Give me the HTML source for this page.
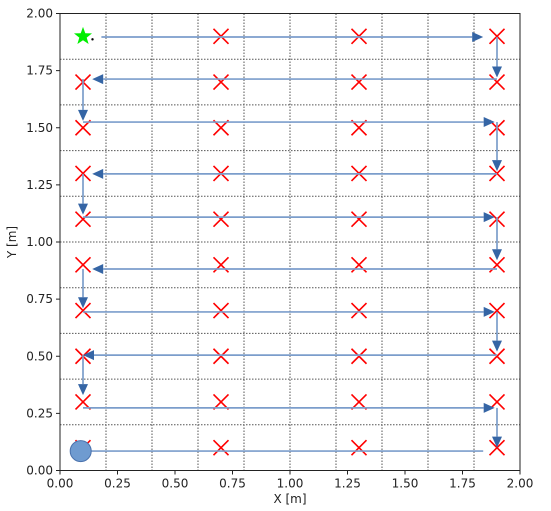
<!DOCTYPE html>
<html><head><meta charset="utf-8"><style>
html,body{margin:0;padding:0;background:#fff;}
svg{display:block;font-family:"DejaVu Sans","Liberation Sans",sans-serif;}
</style></head><body>
<svg id="chart" width="551" height="511" xmlns="http://www.w3.org/2000/svg"></svg>
<script>
// ---- data ----
const xTicks = [0, 0.25, 0.5, 0.75, 1.0, 1.25, 1.5, 1.75, 2.0];
const yTicks = [0, 0.25, 0.5, 0.75, 1.0, 1.25, 1.5, 1.75, 2.0];
const xTickLabels = ["0.00","0.25","0.50","0.75","1.00","1.25","1.50","1.75","2.00"];
const yTickLabels = ["0.00","0.25","0.50","0.75","1.00","1.25","1.50","1.75","2.00"];
const gridVals = [0.2, 0.4, 0.6, 0.8, 1.0, 1.2, 1.4, 1.6, 1.8];
const targetX = [0.1, 0.7, 1.3, 1.9];
const targetY = [0.1, 0.3, 0.5, 0.7, 0.9, 1.1, 1.3, 1.5, 1.7, 1.9];
// arrows: start x, start y, end x, end y
const arrowX0 = [0.18, 1.9, 1.9, 0.1, 0.1, 1.9, 1.9, 0.1, 0.1, 1.9, 1.9, 0.1, 0.1, 1.9, 1.9, 0.1, 0.1, 1.9];
const arrowY0 = [1.897, 1.897, 1.713, 1.713, 1.525, 1.525, 1.298, 1.298, 1.109, 1.109, 0.882, 0.882, 0.694, 0.694, 0.505, 0.505, 0.274, 0.274];
const arrowX1 = [1.84, 1.9, 0.14, 0.1, 1.89, 1.9, 0.14, 0.1, 1.89, 1.9, 0.14, 0.1, 1.89, 1.9, 0.1, 0.1, 1.89, 1.9];
const arrowY1 = [1.897, 1.72, 1.713, 1.53, 1.525, 1.31, 1.298, 1.12, 1.109, 0.92, 0.882, 0.71, 0.694, 0.52, 0.505, 0.33, 0.274, 0.1];
const finalLineX = [0.1, 1.84];
const finalLineY = [0.085, 0.085];
const startPos = [0.1, 1.9];
const endPos = [0.09, 0.085];

// ---- axes ----
const L=60, R=520, T=13.5, B=470.5;
const sx = v => L + (v-0)/(2-0)*(R-L);
const sy = v => B - (v-0)/(2-0)*(B-T);
const svg = document.getElementById('chart');
const NS='http://www.w3.org/2000/svg';
function mk(tag, attrs, parent){const e=document.createElementNS(NS,tag);for(const k in attrs)e.setAttribute(k,attrs[k]);(parent||svg).appendChild(e);return e;}

// grid
const grid = mk('g',{});


gridVals.forEach(v=>{
  const a=mk('line',{x1:sx(v),x2:sx(v),y1:T,y2:B,stroke:'#555','stroke-width':1,'stroke-dasharray':'1.5,1.5'},grid);
  
  
  const b=mk('line',{x1:L,x2:R,y1:sy(v),y2:sy(v),stroke:'#555','stroke-width':1,'stroke-dasharray':'1.5,1.5'},grid);
  
  
});

// targets (red x)
const tg = mk('g',{});


targetX.forEach(x=>targetY.forEach(y=>{
  if(x===startPos[0]&&y===startPos[1]) return;
  const cx=sx(x), cy=sy(y), s=7.5;
  const p=mk('path',{d:`M${cx-s},${cy-s}L${cx+s},${cy+s}M${cx-s},${cy+s}L${cx+s},${cy-s}`,stroke:'#ff0000','stroke-width':1.6,fill:'none'},tg);
  
  
}));

// arrows
const ag = mk('g',{});


for(let i=0;i<arrowX0.length;i++){
  const x0=sx(arrowX0[i]), y0=sy(arrowY0[i]), x1=sx(arrowX1[i]), y1=sy(arrowY1[i]);
  const dx=x1-x0, dy=y1-y0, len=Math.hypot(dx,dy), ux=dx/len, uy=dy/len;
  const hl=11, hw=5;
  const bx=x1-ux*hl, by=y1-uy*hl;
  const l=mk('line',{x1:x0,y1:y0,x2:bx,y2:by,stroke:'#7b9dcb','stroke-width':1.7},ag);
  
  
  const h=mk('polygon',{points:`${x1},${y1} ${bx-uy*hw},${by+ux*hw} ${bx+uy*hw},${by-ux*hw}`,fill:'#3565a5'},ag);
  
  
}
const fl=mk('line',{x1:sx(finalLineX[0]),y1:sy(finalLineY[0]),x2:sx(finalLineX[1]),y2:sy(finalLineY[1]),stroke:'#7b9dcb','stroke-width':1.7});



// end circle
const ec=mk('circle',{cx:sx(endPos[0]),cy:sy(endPos[1]),r:10.5,fill:'#6f9bd0',stroke:'#4a72ad','stroke-width':1});



// start star
(function(){
  const cx=sx(startPos[0]), cy=sy(startPos[1]), ro=9.5, ri=3.9; let pts=[];
  for(let k=0;k<10;k++){const r=k%2?ri:ro, a=-Math.PI/2+k*Math.PI/5; pts.push((cx+r*Math.cos(a)).toFixed(1)+','+(cy+r*Math.sin(a)).toFixed(1));}
  const st=mk('polygon',{points:pts.join(' '),fill:'#00ee00'});
  
  
  const d=mk('circle',{cx:cx+9.5,cy:cy+3,r:1.2,fill:'#000'});
  
  
})();

// frame
const fr=mk('rect',{x:L,y:T,width:R-L,height:B-T,fill:'none',stroke:'#222','stroke-width':1});



// ticks
xTicks.forEach((v,i)=>{
  const t=mk('line',{x1:sx(v),x2:sx(v),y1:B,y2:B+4,stroke:'#222'});
  
  
  const tx=mk('text',{x:sx(v),y:B+17,'font-size':12,'text-anchor':'middle',fill:'#222'});
  tx.textContent=xTickLabels[i];
  
  
});
yTicks.forEach((v,i)=>{
  const t=mk('line',{x1:L-4,x2:L,y1:sy(v),y2:sy(v),stroke:'#222'});
  
  
  const tx=mk('text',{x:L-7,y:sy(v)+4,'font-size':12,'text-anchor':'end',fill:'#222'});
  tx.textContent=yTickLabels[i];
  
  
});
const xl=mk('text',{x:(L+R)/2,y:503,'font-size':12,'text-anchor':'middle',fill:'#222'});
xl.textContent='X [m]';


const yl=mk('text',{x:0,y:0,'font-size':12,'text-anchor':'middle',fill:'#222',transform:`translate(16,${(T+B)/2}) rotate(-90)`});
yl.textContent='Y [m]';


</script>
</body></html>
